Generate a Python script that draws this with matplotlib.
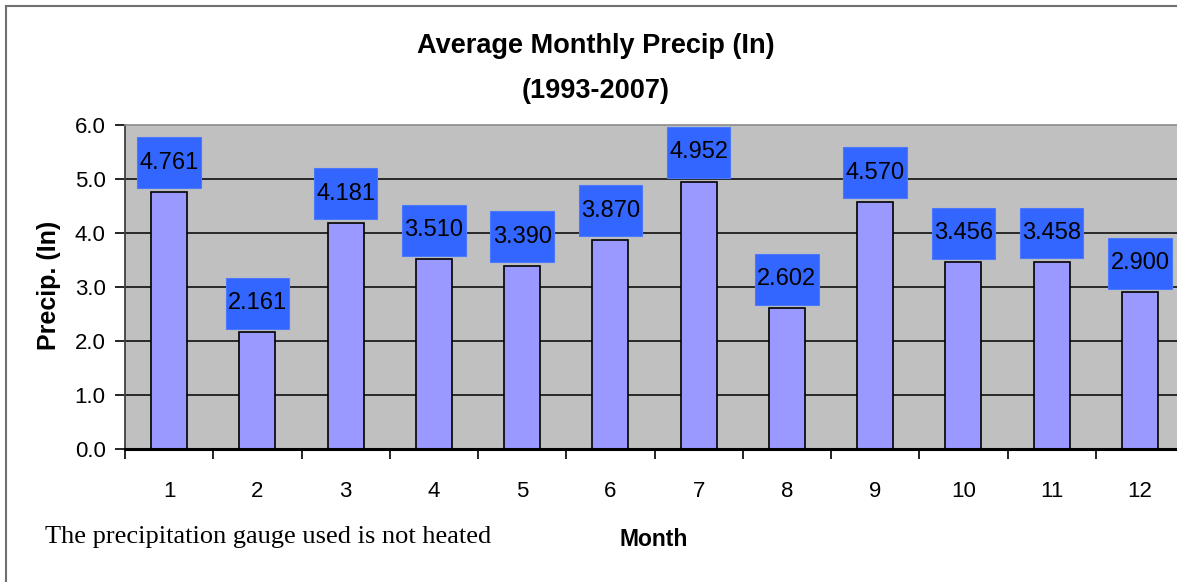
import matplotlib
matplotlib.use("Agg")
import matplotlib.pyplot as plt
from matplotlib.patches import Rectangle
from matplotlib import font_manager

months = [1, 2, 3, 4, 5, 6, 7, 8, 9, 10, 11, 12]
precip = [4.761, 2.161, 4.181, 3.510, 3.390, 3.870, 4.952, 2.602, 4.570, 3.456, 3.458, 2.900]
labels = ["4.761", "2.161", "4.181", "3.510", "3.390", "3.870", "4.952", "2.602", "4.570", "3.456", "3.458", "2.900"]
yticks = [0, 1, 2, 3, 4, 5, 6]
title1 = "Average Monthly Precip (In)"
title2 = "(1993-2007)"
footnote = "The precipitation gauge used is not heated"

plt.rcParams['font.family'] = ['Liberation Sans', 'DejaVu Sans']

names = {f.name for f in font_manager.fontManager.ttflist}
if "Liberation Sans Narrow" in names:
    lab_family, lab_size = ["Liberation Sans Narrow", "Liberation Sans"], 20
else:
    lab_family, lab_size = ["Liberation Sans", "DejaVu Sans"], 17

W, H = 1177, 582
fig = plt.figure(figsize=(W / 100, H / 100), dpi=100)
fig.patch.set_facecolor("white")

# figure border (only top & left visible)
fig.add_artist(Rectangle((5.5 / W, -0.2), 2.0, (H - 5.5) / H + 0.2,
                         transform=fig.transFigure, fill=False,
                         edgecolor="#707070", linewidth=1.5))

ax = fig.add_axes([125 / W, (H - 449) / H, (1184 - 125) / W, (449 - 125) / H])
ax.set_facecolor("#C0C0C0")
ax.set_xlim(0.5, 12.5)
ax.set_ylim(0, 6)

for v in yticks[1:-1]:
    ax.axhline(v, color="black", linewidth=1.1, zorder=1)

ax.bar(months, precip, width=0.41, color="#9999FF", edgecolor="black",
       linewidth=1.2, zorder=2)

for m, v, s in zip(months, precip, labels):
    ax.add_patch(Rectangle((m - 0.36, v + 0.07), 0.72, 0.944,
                           facecolor="#3366FF", edgecolor="#4A78FF",
                           linewidth=0.8, zorder=3, clip_on=False))
    ax.text(m, v + 0.07 + 0.472, s, ha="center", va="center",
            fontsize=lab_size, family=lab_family, color="black",
            zorder=4, clip_on=False)

ax.spines["right"].set_visible(False)
ax.spines["top"].set_color("#8C8C8C")
ax.spines["top"].set_linewidth(1.2)
ax.spines["left"].set_color("#404040")
ax.spines["left"].set_linewidth(1.3)
ax.spines["bottom"].set_color("black")
ax.spines["bottom"].set_linewidth(2.2)

ax.set_yticks(yticks)
ax.set_yticklabels([f"{v:.1f}" for v in yticks])
ax.tick_params(axis="y", length=7, width=1.2, pad=7, labelsize=16, color="black")

ax.set_xticks([m - 0.5 for m in months] + [12.5])
ax.set_xticklabels([])
ax.set_xticks(months, minor=True)
ax.set_xticklabels([str(m) for m in months], minor=True)
ax.tick_params(axis="x", which="major", length=7, width=1.2, direction="out", color="black")
ax.tick_params(axis="x", which="minor", length=0, pad=23, labelsize=16)

fig.text(596 / W, 1 - 46 / H, title1, ha="center", va="center",
         fontsize=19.5, fontweight="bold")
fig.text(596 / W, 1 - 91 / H, title2, ha="center", va="center",
         fontsize=19.5, fontweight="bold")

fig.text(49 / W, 1 - 285 / H, "Precip. (In)", ha="center", va="center",
         rotation=90, fontsize=18, fontweight="bold")
fig.text(654 / W, 1 - 539 / H, "Month", ha="center", va="center",
         fontsize=16.5, fontweight="bold")
fig.text(45 / W, 1 - 543 / H, footnote, ha="left", va="baseline",
         fontsize=19, family=["Liberation Serif", "DejaVu Serif"])

fig.savefig("out.png", dpi=100)
